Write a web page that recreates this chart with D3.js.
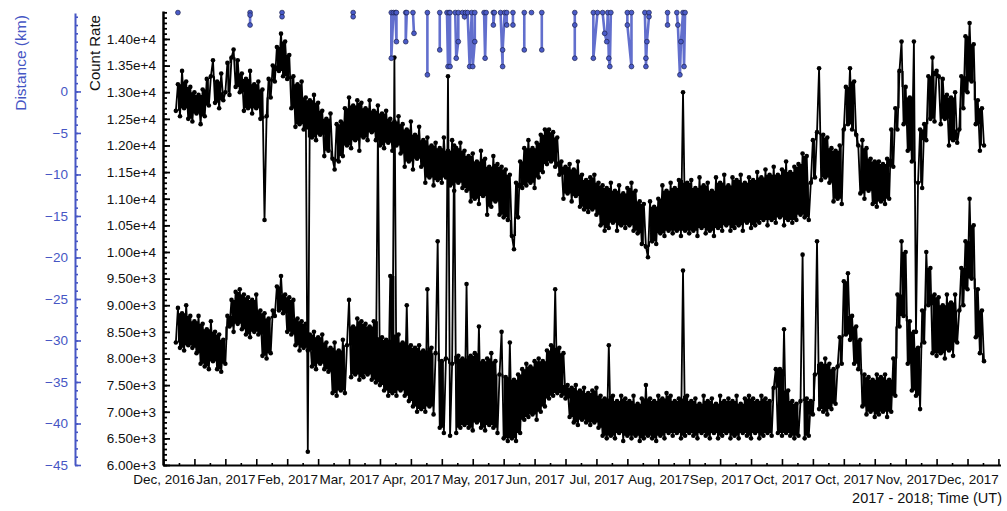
<!DOCTYPE html>
<html>
<head>
<meta charset="utf-8">
<script src="https://cdn.jsdelivr.net/npm/d3@7"></script>
<style>
  body { margin: 0; background: #fff; }
  text { font-family: "Liberation Sans", Arial, sans-serif; }
</style>
</head>
<body>
<svg id="chart" width="1007" height="511"></svg>
<script>
// days are counted from 2016-12-05 (first x tick), one value per day
const firstDay = 6;

const upperRate = [
  12650, 13150, 12550, 13400, 12700, 13200, 12500, 13100, 12450, 13000,
  12600, 12950, 12400, 13050, 12550, 13250, 12750, 13300, 13600, 12800,
  13200, 12700, 13350, 12850, 13000, 13550, 12950, 13650, 13800, 13100,
  13600, 13000, 13350, 12650, 13250, 12700, 13400, 12600, 13150, 12700,
  13200, 12500, 13050, 10600, 12550, 13250, 12900, 13500, 13200, 13850,
  13400, 14100, 13300, 13950, 13250, 13700, 12700, 13300, 12350, 13150,
  12400, 13200, 12300, 12900, 6250, 12850, 12150, 12950, 12100, 12800,
  12200, 12650, 11800, 12500, 11900, 12600, 11750, 11550, 12400, 11700,
  12450, 11800, 12700, 12000, 12900, 11950, 12750, 12100, 12850, 11900,
  12800, 12150, 12700, 12100, 12850, 12250, 12650, 12100, 12750, 12000,
  12600, 11950, 12650, 12050, 12500, 11900, 12450, 12000, 12550, 11850,
  12400, 11600, 12300, 11700, 12450, 11550, 12200, 11750, 12350, 11600,
  12100, 11300, 12150, 11400, 12000, 11250, 12050, 11350, 11950, 11300,
  12150, 11400, 11900, 11250, 12100, 11150, 11950, 11300, 12050, 11200,
  11900, 11150, 11800, 10950, 11850, 11000, 11700, 10900, 11900, 11050,
  11750, 10700, 11600, 10850, 11800, 10950, 11650, 10700, 11600, 10650,
  11550, 10600, 11450, 10300, 10050, 11300, 10650, 11700, 11200, 11950,
  11250, 12100, 11300, 11950, 11200, 12050, 11400, 12200, 11500, 12300,
  11650, 12300, 11700, 12250, 11600, 12150, 11450, 11700, 11000, 11600,
  11100, 11650, 10950, 11550, 11050, 11700, 10850, 11450, 10800, 11350,
  10750, 11400, 10800, 11450, 10700, 11300, 10500, 11250, 10400, 11200,
  10450, 11300, 10550, 11150, 10400, 11250, 10500, 11100, 10450, 11200,
  10500, 11300, 10400, 11150, 10350, 10950, 10150, 10900, 10100, 9900,
  10950, 10200, 10850, 10150, 11000, 10350, 11250, 10300, 11150, 10400,
  11300, 10350, 11200, 10400, 11350, 10300, 13000, 10400, 11300, 10350,
  11350, 10400, 11200, 10300, 11400, 10450, 11250, 10350, 11300, 10400,
  11150, 10300, 11400, 10450, 11300, 10400, 11450, 10500, 11250, 10400,
  11400, 10450, 11350, 10500, 11450, 10400, 11300, 10550, 11400, 10450,
  11350, 10500, 11500, 10550, 11400, 10600, 11550, 10500, 11450, 10600,
  11600, 10550, 11450, 10650, 11550, 10500, 11700, 10600, 11500, 10550,
  11600, 10600, 11650, 10700, 11850, 10650, 11800, 10600, 11300, 12100,
  11400, 12250, 13450, 11350, 12200, 11400, 12150, 11300, 11950, 10950,
  11900, 11000, 12000, 10900, 12300, 13100, 12400, 13450, 12300, 13200,
  12200, 12000, 11100, 12100, 11000, 11950, 11150, 11750, 10900, 11700,
  10850, 11700, 10950, 11650, 10900, 11750, 11000, 12300, 11600, 12700,
  12300, 13400, 13950, 12400, 13100, 11900, 12900, 11700, 13950, 8500,
  11300, 12300, 11200, 12400, 12100, 13300, 12500, 13650, 12450, 13400,
  13300, 12400, 13250, 12500, 12950, 12000, 12900, 12100, 13000, 12050,
  12300, 13300, 12700, 14050, 13000, 14300, 13200, 13900, 12400, 12850,
  11900, 12700, 12000
];

const lowerRate = [
  8300, 8950, 8200, 8850, 8150, 9000, 8250, 8800, 8200, 8700,
  8100, 8800, 7900, 8650, 7850, 8550, 7800, 8700, 7950, 8500,
  7800, 8450, 7750, 8350, 7900, 8800, 8600, 9100, 8500, 9250,
  8650, 9300, 8550, 9200, 8450, 9150, 8400, 9100, 8500, 9200,
  8450, 8900, 8050, 8850, 8000, 8750, 8100, 8900, 8800, 9350,
  8900, 9550, 8850, 9200, 8500, 9150, 8450, 9100, 8250, 8750,
  8150, 8700, 8200, 8650, 8150, 8450, 7850, 8500, 7800, 8400,
  7900, 8450, 7800, 8300, 7750, 8200, 7350, 8300, 7300, 8150,
  7400, 8350, 7350, 8250, 9100, 7650, 8600, 7700, 8750, 7600,
  8700, 7650, 8650, 7700, 8600, 7600, 8700, 7550, 12300, 7500,
  8400, 7400, 8350, 7300, 9550, 7350, 13650, 7300, 8450, 7400,
  8300, 7300, 9000, 7200, 8250, 7100, 8200, 7000, 8250, 7050,
  8150, 7000, 9300, 7100, 8200, 6950, 8100, 10200, 6700, 7950,
  6600, 8000, 13300, 6550, 7900, 12000, 6600, 8050, 6700, 8000,
  6750, 9400, 6700, 8050, 6650, 8100, 6800, 8600, 6700, 7950,
  6650, 8000, 6750, 8100, 6700, 7950, 6600, 7700, 8500, 6500,
  7650, 6450, 8300, 6500, 7600, 6450, 7700, 6600, 7800, 6850,
  7900, 6900, 7850, 6950, 7950, 6850, 8000, 7000, 7950, 7100,
  8150, 7250, 8250, 7300, 9300, 7350, 8200, 7300, 8100, 7250,
  7500, 6900, 7450, 6800, 7500, 6750, 7400, 6850, 7450, 6800,
  7350, 6750, 7400, 6800, 7450, 6700, 7300, 6550, 7250, 6500,
  8250, 6550, 7300, 6500, 7200, 6600, 7300, 6450, 7250, 6550,
  7200, 6500, 7300, 6550, 7150, 6450, 7250, 6500, 7500, 6550,
  7250, 6500, 7200, 6450, 7300, 6550, 7250, 6500, 7350, 6600,
  7300, 6550, 7200, 6600, 7250, 6500, 9650, 6550, 7300, 6600,
  7200, 6550, 7250, 6500, 7150, 6600, 7300, 6550, 7200, 6500,
  7250, 6600, 7150, 6500, 7300, 6550, 7200, 6600, 7250, 6500,
  7200, 6550, 7300, 6500, 7150, 6600, 7250, 6550, 7300, 6500,
  7250, 6600, 7200, 6500, 7300, 6550, 7250, 6600, 7200, 6550,
  7450, 7800, 6600, 7800, 6550, 8550, 6600, 7400, 6550, 7200,
  6500, 7150, 6550, 7200, 9950, 6500, 7250, 6550, 7200, 6950,
  7700, 10200, 7050, 7900, 7000, 8000, 6950, 7900, 7050, 7800,
  7150, 7850, 8400, 7900, 9450, 8450, 9600, 8350, 8800, 7900,
  8600, 7800, 8350, 7100, 7700, 6950, 7650, 7000, 7600, 6900,
  7700, 6950, 7650, 7000, 7700, 6900, 7600, 7000, 8000, 7300,
  9200, 8600, 10200, 8800, 10000, 7900, 8700, 7400, 8500, 7300,
  8200, 7050, 8900, 8300, 10000, 9000, 9700, 8100, 9200, 8050,
  9150, 8100, 9000, 8000, 9200, 8150, 9050, 8050, 9200, 8300,
  8900, 9700, 9000, 10200, 9300, 11000, 9500, 10500, 8400, 9300,
  8100, 8900, 7950
];

// spacecraft distance samples (km); null splits the trace
const blueDay = [
  7, null,
  42, 42, 42, null,
  57.5, 57.5, null,
  92, 92, null,
  110.5, 110.5, 111.5, 112.5, 113, 113, null,
  117.5, 117.5, 118, null,
  121, 121.5, null,
  128, 128, null,
  134, 134, null,
  137.5, 138, 138.5, 139, 139, null,
  141.5, 142, 143, 143, 145, 146, 146.5, null,
  147.5, 148.5, 149.5, 150, 151, 151, null,
  155.5, 156, 156.5, null,
  160, 160, 160.5, null,
  163.5, 164.5, 164.5, 165.5, null,
  166.5, 166.5, null,
  169.5, 169.5, null,
  175, 175, null,
  178.5, null,
  183.5, 183.5, null,
  199.5, 199.5, 199.5, null,
  208.5, 208.5, 210.5, null,
  213, 214, 215, 215.5, 216, 216.5, 217, null,
  225, 225, 227, 227, null,
  233.5, 234, 234, 234.5, 235.5, 235.5, null,
  244.5, 244.5, null,
  249, 249.5, 250.5, 251, 252, 252.5, 253
];
const blueKm = [
  9.5, null,
  9.5, 9.2, 8.0, null,
  9.5, 9.0, null,
  9.5, 9.0, null,
  9.5, 4.0, 9.5, 9.5, 6.0, 9.5, null,
  9.5, 6.0, 9.5, null,
  9.5, 7.0, null,
  9.5, 2.0, null,
  9.5, 5.0, null,
  9.5, 3.0, 9.5, 9.5, 3.0, null,
  9.5, 4.0, 6.0, 9.5, 9.5, 9.0, 9.5, null,
  9.5, 3.0, 9.5, 3.0, 6.0, 9.5, null,
  9.5, 4.0, 9.5, null,
  9.5, 8.0, 9.5, null,
  9.5, 3.0, 5.0, 9.5, null,
  9.5, 8.0, null,
  9.5, 8.0, null,
  9.5, 5.0, null,
  9.5, null,
  9.5, 5.0, null,
  9.5, 8.0, 4.0, null,
  9.5, 4.0, 9.5, null,
  9.5, 7.0, 6.0, 9.5, 4.0, 3.0, 9.5, null,
  9.5, 8.0, 3.0, 9.5, null,
  9.5, 4.0, 3.0, 6.0, 9.0, 9.5, null,
  9.5, 8.0, null,
  9.5, 8.0, 2.0, 6.0, 9.5, 3.0, 9.5
];

const monthTickDays = d3.range(0, 391, 30);
const monthLabels = ["Dec, 2016", "Jan, 2017", "Feb, 2017", "Mar, 2017", "Apr, 2017",
  "May, 2017", "Jun, 2017", "Jul, 2017", "Aug, 2017", "Sep, 2017", "Oct, 2017",
  "Oct, 2017", "Nov, 2017", "Dec, 2017"];
const rateTicks = d3.range(6000, 14001, 500);
const kmTicks = d3.range(-45, 1, 5);

const blue = "#4656c4";
const svg = d3.select("#chart");

const x = d3.scaleLinear().domain([0, 406]).range([163.5, 1000.5]);
const yRate = d3.scaleLinear().domain([6000, 14525]).range([465, 11]);
const yKm = d3.scaleLinear().domain([-45, 9.45]).range([465, 13]);

// count rate series. The real sampling is much denser than one value a day,
// so the trace reads as a solid band: fill the day-to-day range (spikes
// left out by a 3-point median) and draw the raw trace on top of it.
const line = d3.line().x(p => x(p.d)).y(p => yRate(p.v));
const band = d3.area().curve(d3.curveStepAfter)
  .x(p => x(p.d)).y0(p => yRate(p.lo)).y1(p => yRate(p.hi));
[upperRate, lowerRate].forEach(arr => {
  const pts = arr.map((v, i) => ({ d: firstDay + i, v }));
  const med = arr.map((v, i) => d3.median([arr[Math.max(i - 1, 0)], v, arr[Math.min(i + 1, arr.length - 1)]]));
  const bandPts = pts.map((p, i) => {
    const a = med[i], b = med[Math.min(i + 1, arr.length - 1)];
    return { d: p.d, lo: Math.min(a, b), hi: Math.max(a, b) };
  });
  svg.append("path").datum(bandPts)
    .attr("d", band)
    .attr("fill", "#000");
  svg.append("path").datum(pts)
    .attr("d", line)
    .attr("fill", "none")
    .attr("stroke", "#000")
    .attr("stroke-linejoin", "round")
    .attr("stroke-width", 1.8);
  svg.append("g").selectAll("circle")
    .data(pts)
    .enter().append("circle")
    .attr("cx", p => x(p.d))
    .attr("cy", p => yRate(p.v))
    .attr("r", 2.3)
    .attr("fill", "#000");
});

// distance series
const bluePts = blueDay.map((d, i) => ({ d, km: blueKm[i] }));
svg.append("path").datum(bluePts)
  .attr("d", d3.line().defined(p => p.km != null).x(p => x(p.d)).y(p => yKm(p.km)))
  .attr("fill", "none")
  .attr("stroke", blue)
  .attr("stroke-opacity", 0.85)
  .attr("stroke-width", 2.6);
svg.append("g").selectAll("circle")
  .data(bluePts.filter(p => p.km != null))
  .enter().append("circle")
  .attr("cx", p => x(p.d))
  .attr("cy", p => yKm(p.km))
  .attr("r", 2.4)
  .attr("fill", "#4a5bc8")
  .attr("stroke", "#1c2250")
  .attr("stroke-width", 0.7);

// x axis
const xg = svg.append("g").attr("transform", "translate(0,465)");
xg.append("g")
  .call(d3.axisBottom(x).tickValues(d3.range(7.5, 406, 15)).tickSizeInner(-2).tickSizeOuter(0).tickFormat(""))
  .call(g => g.select(".domain").remove());
xg.append("g")
  .call(d3.axisBottom(x).tickValues(d3.range(0, 406, 15)).tickSizeInner(-6).tickSizeOuter(0).tickFormat(""))
  .call(g => g.select(".domain").remove());
xg.append("g")
  .call(d3.axisBottom(x).tickValues(monthTickDays).tickSize(0).tickPadding(9)
    .tickFormat((d, i) => monthLabels[i]))
  .call(g => g.select(".domain").attr("stroke-width", 2))
  .selectAll("text").attr("font-size", 13.5).attr("fill", "#111");
xg.selectAll("line").attr("stroke", "#000").attr("stroke-width", 1.6);

svg.append("text")
  .attr("x", 1002).attr("y", 503)
  .attr("text-anchor", "end")
  .attr("font-size", 14.5)
  .attr("fill", "#111")
  .text("2017 - 2018; Time (UT)");

// count rate axis
const rg = svg.append("g").attr("transform", "translate(163,0)");
rg.append("g")
  .call(d3.axisLeft(yRate).tickValues(d3.range(6000, 14501, 100)).tickSizeInner(-4).tickSizeOuter(0).tickFormat(""))
  .call(g => g.select(".domain").remove());
rg.append("g")
  .call(d3.axisLeft(yRate).tickValues(rateTicks).tickSizeInner(-7).tickSizeOuter(0).tickPadding(7)
    .tickFormat(d => d.toExponential(2)))
  .call(g => g.select(".domain").attr("stroke-width", 2.5))
  .selectAll("text").attr("font-size", 13.5).attr("fill", "#111");
rg.selectAll("line").attr("stroke", "#000").attr("stroke-width", 1.8);

svg.append("text")
  .attr("transform", "translate(100,53) rotate(-90)")
  .attr("text-anchor", "middle")
  .attr("font-size", 15)
  .attr("fill", "#111")
  .text("Count Rate");

// distance axis
const kg = svg.append("g").attr("transform", "translate(75,0)");
kg.append("g")
  .call(d3.axisLeft(yKm).tickValues(d3.range(-45, 10, 1)).tickSizeInner(-3).tickSizeOuter(0).tickFormat(""))
  .call(g => g.select(".domain").remove());
kg.append("g")
  .call(d3.axisLeft(yKm).tickValues(kmTicks).tickSizeInner(-6).tickSizeOuter(0).tickPadding(7))
  .call(g => g.select(".domain").attr("stroke", blue).attr("stroke-width", 2))
  .selectAll("text").attr("font-size", 13.5).attr("fill", blue);
kg.selectAll("line").attr("stroke", blue).attr("stroke-width", 1.6);

svg.append("text")
  .attr("transform", "translate(26,63) rotate(-90)")
  .attr("text-anchor", "middle")
  .attr("font-size", 15.5)
  .attr("fill", blue)
  .text("Distance (km)");
</script>
</body>
</html>
